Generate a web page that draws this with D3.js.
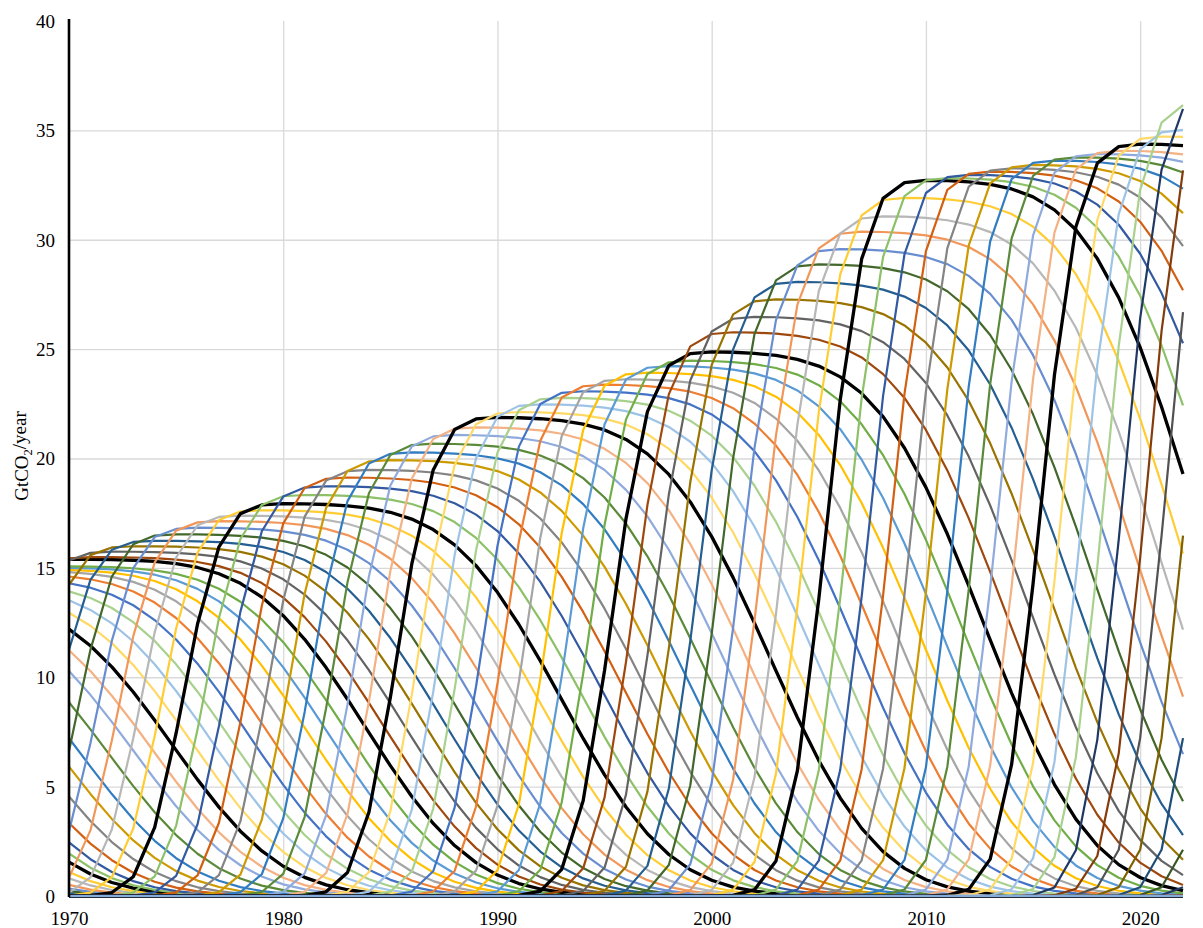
<!DOCTYPE html>
<html>
<head>
<meta charset="utf-8">
<script src="https://cdn.jsdelivr.net/npm/d3@7"></script>
<style>
  html, body { margin: 0; padding: 0; background: #ffffff; }
  svg { display: block; }
  .tick text { font-family: "Liberation Serif", "Times New Roman", serif; font-size: 19px; fill: #000; }
</style>
</head>
<body>
<svg id="chart" width="1203" height="928"></svg>
<script>
// ---------------- data ----------------
const years = d3.range(1970, 2023);                       // plotted years
const xTickYears = [1970, 1980, 1990, 2000, 2010, 2020];
const yTickValues = [0, 5, 10, 15, 20, 25, 30, 35, 40];
const yGridValues = [5, 10, 15, 20, 25, 30, 35];

// one curve per cohort (vintage year)
const cohorts = [1938,1939,1940,1941,1942,1943,1944,1945,1946,1947,1948,1949,1950,1951,1952,1953,1954,1955,1956,1957,1958,1959,
  1960,1961,1962,1963,1964,1965,1966,1967,1968,1969,1970,1971,1972,1973,1974,1975,1976,1977,1978,1979,1980,1981,1982,1983,1984,
  1985,1986,1987,1988,1989,1990,1991,1992,1993,1994,1995,1996,1997,1998,1999,2000,2001,2002,2003,2004,2005,2006,2007,2008,2009,
  2010,2011,2012,2013,2014,2015,2016,2017,2018,2019,2020,2021,2022,2023,2024,2025,2026];

// plateau level of each cohort curve (GtCO2/year)
const plateau = [11.6,11.7,11.8,11.9,12.0,12.05,12.1,12.15,12.25,12.4,12.55,12.7,12.85,13.0,13.15,13.3,13.5,13.75,14.0,14.2,14.35,14.55,
  14.75,14.88,14.95,15.02,15.08,15.4,15.5,15.75,16.0,16.25,16.55,16.85,17.15,17.4,17.65,17.95,18.35,18.75,19.15,19.5,19.95,20.3,20.7,21.1,21.45,
  21.9,22.15,22.5,22.8,23.1,23.4,23.65,23.95,24.25,24.5,24.9,25.8,26.5,27.3,28.1,28.9,29.6,30.4,31.1,31.95,32.75,32.85,33.0,33.15,33.3,
  33.45,33.65,33.8,33.95,34.1,34.4,34.75,35.05,36.3,36.8,37.3,37.2,37.2,37.2,37.2,37.2,37.2];

// year at which each curve is half way up its rise
const riseYear = [1938.3,1939.3,1940.3,1941.3,1942.3,1943.3,1944.3,1945.3,1946.3,1947.3,1948.3,1949.3,1950.3,1951.3,1952.3,1953.3,1954.3,1955.3,1956.3,1957.3,1958.3,1959.3,
  1960.3,1961.3,1962.3,1963.3,1964.3,1965.3,1966.3,1967.3,1968.3,1969.3,1970.35,1971.3,1972.3,1973.3,1974.3,1975.3,1976.3,1977.3,1978.3,1979.3,1980.3,1981.3,1982.3,1983.3,1984.3,
  1985.3,1986.3,1987.3,1988.3,1989.3,1990.3,1991.3,1992.3,1993.3,1994.3,1995.3,1996.3,1997.3,1998.3,1999.3,2000.3,2001.3,2002.3,2003.3,2004.3,2005.3,2006.3,2007.3,2008.3,2009.3,
  2010.3,2011.3,2012.3,2013.3,2014.3,2015.3,2016.3,2017.3,2018.3,2019.2,2020.3,2021.2,2022.2,2023.2,2024.2,2025.2,2026.2];

// year at which each curve is half way down its decline
const fallYear = [1960.0,1960.85,1961.7,1962.4,1963.1,1964.0,1964.65,1965.45,1966.0,1966.6,1967.5,1968.55,1969.6,1970.55,1971.8,1973.0,1973.85,1974.85,1975.75,1976.65,1977.55,1978.45,
  1979.35,1980.25,1981.15,1982.05,1982.95,1983.85,1984.7,1985.6,1986.5,1987.4,1988.3,1989.2,1990.1,1991.05,1992.0,1993.0,1993.95,1994.9,1995.85,1996.8,1997.75,1998.75,1999.7,2000.7,2001.7,
  2002.7,2003.7,2004.7,2005.7,2006.7,2007.7,2008.7,2009.7,2010.7,2011.7,2012.7,2013.75,2014.8,2015.8,2016.85,2017.85,2018.9,2019.9,2020.9,2021.9,2022.9,2023.9,2024.9,2025.9,2026.95,
  2028.0,2029.05,2030.1,2031.1,2032.1,2033.1,2034.1,2035.1,2036.1,2037.1,2038.1,2039.1,2040.1,2041.1,2042.1,2043.1,2044.1];

const riseSpread = 1.39;   // years
const fallSpread = 4.0;    // years
const blackCohorts = [1945, 1955, 1965, 1975, 1985, 1995, 2005, 2015];

(function () {
// ---------------- styles ----------------
const paletteGroups = [
  ["#4472C4","#ED7D31","#A5A5A5","#FFC000","#5B9BD5","#70AD47"],
  ["#264478","#9E480E","#636363","#997300","#255E91","#43682B"],
  ["#698ED0","#F1975A","#B7B7B7","#FFCD33","#7CAFDD","#8CC168"],
  ["#335AA1","#D26012","#848484","#CC9A00","#327DC2","#5A8A39"],
  ["#8FAADC","#F4B183","#C9C9C9","#FFD966","#9DC3E6","#A9D18E"]
];
const latePalette = ["#203864","#843C0C","#525252","#7F6000","#1F4E79","#385723"];
function cohortColor(k) {
  if (blackCohorts.includes(k)) return "#000000";
  if (k >= 2019) return latePalette[(k - 2019) % 6];
  const idx = (((k - 1959) % 30) + 30) % 30;
  return paletteGroups[Math.floor(idx / 6)][idx % 6];
}

// normal cumulative distribution
function phi(z) {
  const t = 1 / (1 + 0.2316419 * Math.abs(z));
  const d = 0.3989422804 * Math.exp(-z * z / 2);
  const p = d * t * (0.3193815 + t * (-0.3565638 + t * (1.781478 + t * (-1.821256 + t * 1.330274))));
  return z > 0 ? 1 - p : p;
}

const series = cohorts.map((k, i) => ({
  cohort: k,
  values: years.map(t => ({
    year: t,
    value: plateau[i] * phi((t - riseYear[i]) / riseSpread) * (1 - phi((t - fallYear[i]) / fallSpread))
  }))
}));

// ---------------- drawing ----------------
const svg = d3.select("#chart");
const pL = 69, pR = 1183, pT = 21, pB = 896;
const x = d3.scaleLinear().domain([1970, 2022]).range([pL, pR]);
const y = d3.scaleLinear().domain([0, 40]).range([pB, pT]);

svg.append("rect").attr("width", 1203).attr("height", 928).attr("fill", "#fff");

// gridlines
const hGrid = svg.append("g").attr("transform", `translate(${pL},0)`)
  .call(d3.axisLeft(y).tickValues(yGridValues).tickSize(-(pR - pL)).tickFormat(""));
hGrid.select(".domain").remove();
hGrid.selectAll("line").attr("stroke", "#d9d9d9").attr("stroke-width", 1.3);

const vGrid = svg.append("g").attr("transform", `translate(0,${pB})`)
  .call(d3.axisBottom(x).tickValues(xTickYears.filter(v => v > 1970)).tickSize(-(pB - pT)).tickFormat(""));
vGrid.select(".domain").remove();
vGrid.selectAll("line").attr("stroke", "#d9d9d9").attr("stroke-width", 1.3);

// curves
const line = d3.line().x(d => x(d.year)).y(d => y(d.value));
svg.append("g").selectAll("path").data(series).join("path")
  .attr("d", d => line(d.values))
  .attr("fill", "none")
  .attr("stroke", d => cohortColor(d.cohort))
  .attr("stroke-width", d => blackCohorts.includes(d.cohort) ? 3.3 : 2.2)
  .attr("stroke-linejoin", "round");

// zero line (series at zero along the axis)
svg.append("path")
  .attr("d", line(years.map(t => ({ year: t, value: 0 }))))
  .attr("fill", "none").attr("stroke", "#86aadc").attr("stroke-width", 2.6);

// y axis
const yAxis = svg.append("g").attr("transform", `translate(${pL},0)`)
  .call(d3.axisLeft(y).tickValues(yTickValues).tickSize(0).tickPadding(14));
yAxis.select(".domain").remove();
yAxis.selectAll("text").attr("dy", "0.34em");
svg.append("line").attr("x1", pL).attr("x2", pL).attr("y1", pT - 2).attr("y2", pB + 1)
  .attr("stroke", "#000").attr("stroke-width", 2.6);

// x axis labels
const xAxis = svg.append("g").attr("transform", `translate(0,${pB})`)
  .call(d3.axisBottom(x).tickValues(xTickYears).tickFormat(d3.format("d")).tickSize(0).tickPadding(16));
xAxis.select(".domain").remove();

// y axis title
const title = svg.append("text")
  .attr("transform", "translate(28,456) rotate(-90)")
  .attr("text-anchor", "middle")
  .style("font-family", "'Liberation Serif', 'Times New Roman', serif")
  .style("font-size", "19px")
  .attr("fill", "#000");
title.append("tspan").text("GtCO");
title.append("tspan").text("2").style("font-size", "12.5px").attr("dy", "0.35em");
title.append("tspan").text("/year").attr("dy", "-0.35em");
})();
</script>
</body>
</html>
